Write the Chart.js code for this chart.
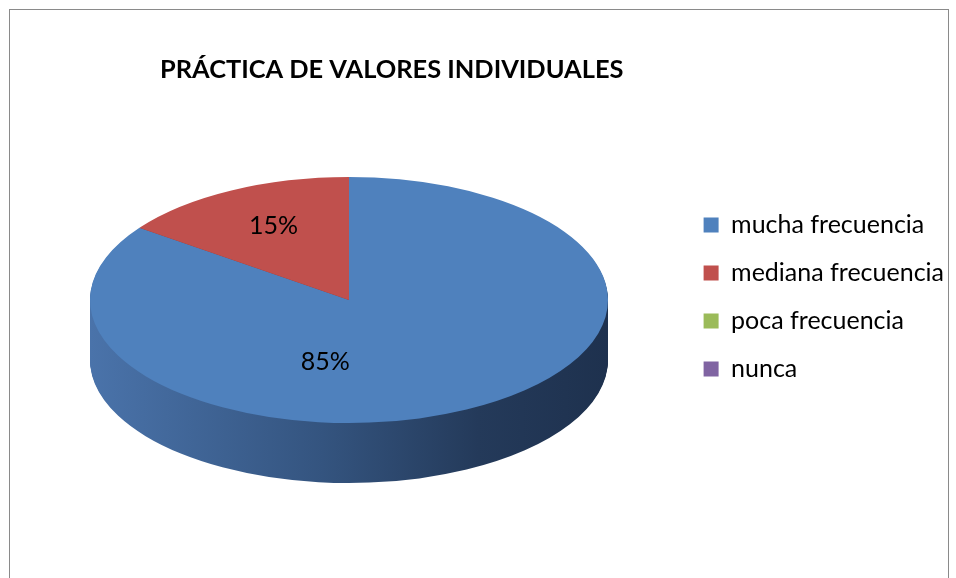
<!DOCTYPE html>
<html>
<head>
<meta charset="utf-8">
<script src="https://cdn.jsdelivr.net/npm/chart.js@4.4.1/dist/chart.umd.min.js"></script>
<style>
  html, body { margin: 0; padding: 0; background: #fff; }
  #wrap { position: relative; width: 956px; height: 578px; overflow: hidden; }
  #frame { position: absolute; left: 9px; top: 9px; width: 938px; height: 620px; border: 1px solid #8a8a8a; }
  #pie3d { position: absolute; left: 0; top: 0; }
</style>
</head>
<body>
<div id="wrap">
  <div id="frame"></div>
  <canvas id="pie3d" width="956" height="578"></canvas>
</div>
<script>
const chartTitle = 'PRÁCTICA DE VALORES INDIVIDUALES';
const categories = ['mucha frecuencia', 'mediana frecuencia', 'poca frecuencia', 'nunca'];
const percentages = [85, 15, 0, 0];
const sliceColors = ['#4f81bd', '#c0504d', '#9bbb59', '#8064a2'];

// where the tilted pie sits on the page (top face ellipse + wall height)
const tilt = { cx: 349, cy: 300, rx: 259, ry: 123, depth: 60 };

function wallFill(ctx, i, x0, x1) {
  if (i === 0) {
    const g = ctx.createLinearGradient(x0, 0, x1, 0);
    g.addColorStop(0, '#4a73aa');
    g.addColorStop(0.45, '#34547f');
    g.addColorStop(0.75, '#243a5a');
    g.addColorStop(1, '#1e314e');
    return g;
  }
  return ['#4f81bd', '#8c3836', '#6f8a3c', '#5b4677'][i];
}

const tiltedPie = {
  id: 'tiltedPie',
  beforeDatasetsDraw(chart) {
    const ctx = chart.ctx;
    const arcs = chart.getDatasetMeta(0).data;
    const r = arcs[0].outerRadius;
    const ox = arcs[0].x, oy = arcs[0].y;
    ctx.save();
    ctx.translate(tilt.cx, tilt.cy);
    ctx.scale(tilt.rx / r, tilt.ry / r);
    ctx.translate(-ox, -oy);

    // side wall: the slices stacked downwards
    const step = r / tilt.ry;
    for (let d = tilt.depth; d > 0; d--) {
      ctx.save();
      ctx.translate(0, d * step);
      arcs.forEach((arc, i) => {
        if (!arc.circumference) return;
        const layer = Object.create(arc);
        layer.options = Object.assign({}, arc.options, {
          backgroundColor: wallFill(ctx, i, ox - r, ox + r),
          borderWidth: 0
        });
        arc.draw.call(layer, ctx);
      });
      ctx.restore();
    }
  },
  afterDatasetsDraw(chart) {
    const ctx = chart.ctx;
    ctx.restore();

    // percentage labels on the top face
    const arcs = chart.getDatasetMeta(0).data;
    const total = percentages.reduce((a, b) => a + b, 0);
    ctx.save();
    ctx.font = '25px Lato';
    ctx.fillStyle = '#000';
    ctx.textAlign = 'center';
    ctx.textBaseline = 'middle';
    arcs.forEach((arc, i) => {
      if (!percentages[i]) return;
      let a = (arc.startAngle + arc.endAngle) / 2;
      let f = 0.66;
      if (i === 0) { a = Math.PI * 0.56; f = 0.53; }
      const x = tilt.cx + Math.cos(a) * f * tilt.rx + 2;
      const y = tilt.cy + Math.sin(a) * f * tilt.ry - 2;
      ctx.fillText(Math.round(percentages[i] / total * 100) + '%', x, y);
    });
    ctx.restore();
  }
};

new Chart(document.getElementById('pie3d'), {
  type: 'pie',
  data: {
    labels: categories,
    datasets: [{
      data: percentages,
      backgroundColor: sliceColors,
      borderWidth: 0
    }]
  },
  options: {
    responsive: false,
    animation: false,
    layout: { padding: { left: 160, right: 2, top: 16, bottom: 0 } },
    plugins: {
      title: {
        display: true,
        text: chartTitle,
        align: 'start',
        color: '#000',
        font: { family: 'Lato', size: 25.4, weight: 'bold' },
        padding: { top: 39, bottom: 10 }
      },
      legend: {
        position: 'right',
        labels: {
          color: '#000',
          boxWidth: 15,
          boxHeight: 15,
          padding: 23,
          font: { family: 'Lato', size: 25 }
        }
      },
      tooltip: { enabled: false }
    }
  },
  plugins: [tiltedPie]
});
</script>
</body>
</html>
